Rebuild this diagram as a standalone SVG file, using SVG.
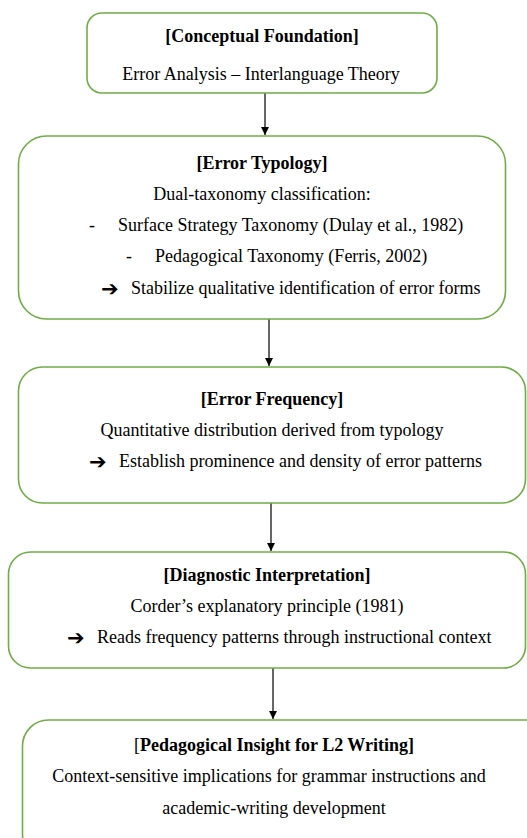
<svg xmlns="http://www.w3.org/2000/svg" width="527" height="838" viewBox="0 0 527 838">
<style>
.box{fill:#fff;stroke:#70ad47;stroke-width:1.6}
.t{font-family:"Liberation Serif","Times New Roman",serif;font-size:18px;fill:#000}
.b{font-weight:bold}
.m{text-anchor:middle}
.ar{font-family:"DejaVu Sans",sans-serif;font-size:21px;font-weight:bold;fill:#000}
.c{stroke:#000;stroke-width:1.2;fill:none;marker-end:url(#ah)}
</style>
<defs>
<marker id="ah" viewBox="0 0 10 10" refX="10" refY="5" markerWidth="8" markerHeight="8" markerUnits="userSpaceOnUse" orient="auto">
<path d="M0,0 L10,5 L0,10 z" fill="#000"/>
</marker>
</defs>
<rect width="527" height="838" fill="#fff"/>
<g id="connectors">
<line class="c" x1="265" y1="93" x2="265" y2="135"/>
<line class="c" x1="269" y1="319" x2="269" y2="366"/>
<line class="c" x1="271" y1="503" x2="271" y2="551"/>
<line class="c" x1="273" y1="668" x2="273" y2="719"/>
</g>
<g id="node1">
<rect class="box" x="87" y="13" width="350" height="80" rx="15"/>
<text class="t b m" x="262" y="42">[Conceptual Foundation]</text>
<text class="t m" x="261" y="80">Error Analysis – Interlanguage Theory</text>
</g>
<g id="node2">
<rect class="box" x="18.5" y="136" width="487" height="183" rx="28"/>
<text class="t b m" x="262" y="169">[Error Typology]</text>
<text class="t m" x="262" y="200">Dual-taxonomy classification:</text>
<text class="t" x="89" y="231">-</text>
<text class="t" x="118" y="231">Surface Strategy Taxonomy (Dulay et al., 1982)</text>
<text class="t" x="126" y="262">-</text>
<text class="t" x="155" y="262">Pedagogical Taxonomy (Ferris, 2002)</text>
<text class="ar" x="101" y="296">➔</text>
<text class="t" x="131" y="294">Stabilize qualitative identification of error forms</text>
</g>
<g id="node3">
<rect class="box" x="18.5" y="367" width="507" height="136" rx="24"/>
<text class="t b m" x="272" y="405">[Error Frequency]</text>
<text class="t m" x="272" y="436">Quantitative distribution derived from typology</text>
<text class="ar" x="89" y="469">➔</text>
<text class="t" x="119" y="467">Establish prominence and density of error patterns</text>
</g>
<g id="node4">
<rect class="box" x="8.5" y="552" width="517" height="116" rx="22"/>
<text class="t b m" x="267" y="581">[Diagnostic Interpretation]</text>
<text class="t m" x="267" y="612">Corder’s explanatory principle (1981)</text>
<text class="ar" x="67" y="645">➔</text>
<text class="t" x="97" y="643">Reads frequency patterns through instructional context</text>
</g>
<g id="node5">
<rect class="box" x="22.5" y="720" width="530" height="140" rx="26"/>
<text class="t m" x="274" y="751">[<tspan class="b">Pedagogical Insight for L2 Writing]</tspan></text>
<text class="t m" x="269" y="782">Context-sensitive implications for grammar instructions and</text>
<text class="t m" x="274" y="814">academic-writing development</text>
</g>
</svg>
